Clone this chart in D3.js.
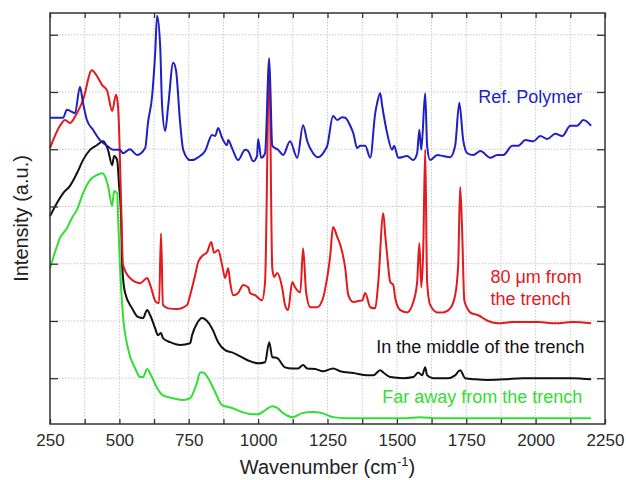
<!DOCTYPE html>
<html>
<head>
<meta charset="utf-8">
<script src="https://cdn.jsdelivr.net/npm/d3@7"></script>
<style>
  body { margin: 0; background: #fff; }
  #chart { width: 626px; height: 480px; }
  text { font-family: "Liberation Sans", Arial, sans-serif; }
</style>
</head>
<body>
<div id="chart"></div>
<script>
// spectra: [wavenumber (cm-1), intensity (a.u., offset)]
const refPolymer = [
  [250, 4.55], [297, 4.55], [311, 4.69], [322, 4.67], [340, 4.63], [358, 5.09], [369, 4.81],
  [383, 4.51], [405, 4.34], [430, 4.16], [456, 4.06], [477, 3.99], [502, 3.99], [513, 3.93],
  [538, 4.00], [564, 3.90], [593, 4.02], [603, 4.46], [618, 4.93], [629, 5.68], [636, 6.33],
  [647, 5.80], [654, 4.76], [665, 4.32], [676, 4.76], [694, 5.51], [704, 5.38], [719, 4.46],
  [730, 3.99], [755, 3.81], [762, 3.81], [784, 3.86], [809, 3.97], [834, 4.25], [845, 4.23],
  [856, 4.37], [870, 4.20], [888, 4.07], [892, 4.16], [906, 4.02], [928, 3.81], [953, 3.99],
  [964, 3.97], [982, 3.79], [996, 3.88], [1000, 4.18], [1011, 3.85], [1025, 3.93], [1040, 5.59],
  [1051, 4.06], [1061, 4.02], [1072, 3.99], [1090, 3.90], [1115, 4.14], [1141, 3.85], [1162, 4.42],
  [1177, 4.14], [1198, 3.93], [1216, 3.86], [1242, 3.99], [1249, 4.06], [1270, 4.58], [1285, 4.51],
  [1303, 4.56], [1314, 4.55], [1332, 4.41], [1343, 4.28], [1357, 4.02], [1368, 4.06], [1386, 4.06],
  [1404, 3.85], [1422, 4.63], [1429, 4.81], [1440, 4.98], [1447, 4.76], [1465, 4.28], [1483, 3.99],
  [1490, 4.06], [1505, 3.85], [1537, 3.88], [1559, 3.81], [1573, 3.93], [1581, 4.34], [1588, 3.99],
  [1602, 4.98], [1609, 4.06], [1620, 3.81], [1646, 3.90], [1667, 3.88], [1692, 3.86], [1710, 4.06],
  [1725, 4.81], [1739, 4.16], [1754, 3.93], [1775, 3.90], [1801, 3.97], [1837, 3.85], [1862, 3.90],
  [1884, 3.90], [1916, 4.06], [1938, 4.06], [1963, 4.16], [1992, 4.14], [2017, 4.23], [2042, 4.18],
  [2071, 4.27], [2096, 4.23], [2125, 4.41], [2150, 4.41], [2172, 4.51], [2200, 4.41]
];

const trench80 = [
  [250, 4.02], [286, 4.41], [304, 4.51], [322, 4.46], [347, 4.63], [369, 4.86], [401, 5.38],
  [419, 5.28], [438, 5.12], [456, 5.02], [474, 4.67], [488, 4.95], [495, 4.76], [499, 4.34],
  [506, 3.11], [513, 1.98], [538, 1.75], [575, 1.66], [600, 1.75], [611, 1.63], [632, 1.33],
  [643, 1.31], [650, 2.53], [657, 1.28], [676, 1.22], [708, 1.21], [744, 1.28], [755, 1.45],
  [773, 1.80], [784, 2.03], [802, 2.15], [816, 2.20], [831, 2.38], [841, 2.19], [856, 2.24],
  [870, 1.98], [881, 1.75], [892, 1.92], [899, 1.68], [910, 1.45], [928, 1.49], [946, 1.63],
  [964, 1.59], [971, 1.49], [989, 1.45], [1014, 1.36], [1025, 1.68], [1040, 5.47], [1051, 1.92],
  [1058, 1.77], [1069, 1.84], [1087, 1.57], [1097, 1.28], [1108, 1.19], [1123, 1.68], [1133, 1.59],
  [1152, 1.50], [1162, 2.27], [1173, 1.50], [1188, 1.24], [1213, 1.24], [1234, 1.40], [1242, 1.57],
  [1260, 2.15], [1270, 2.64], [1285, 2.47], [1296, 2.33], [1314, 1.92], [1325, 1.45], [1343, 1.33],
  [1361, 1.35], [1375, 1.36], [1386, 1.49], [1404, 1.24], [1422, 1.22], [1433, 1.68], [1451, 2.88],
  [1458, 2.50], [1465, 2.15], [1476, 1.68], [1487, 1.63], [1494, 1.40], [1512, 1.19], [1537, 1.15],
  [1559, 1.33], [1573, 1.68], [1581, 2.36], [1588, 1.59], [1595, 2.24], [1602, 3.99], [1609, 1.68],
  [1620, 1.28], [1646, 1.15], [1667, 1.15], [1692, 1.22], [1710, 1.45], [1721, 1.98], [1728, 3.34],
  [1735, 2.60], [1743, 1.36], [1754, 1.22], [1764, 1.15], [1793, 1.10], [1829, 1.00], [1865, 0.96],
  [1916, 0.98], [2010, 0.98], [2071, 0.96], [2132, 0.98], [2200, 0.96]
];

const trenchMiddle = [
  [250, 2.83], [275, 3.06], [297, 3.23], [322, 3.36], [347, 3.58], [369, 3.81], [394, 3.99],
  [419, 4.07], [441, 4.14], [459, 3.99], [474, 3.72], [481, 3.88], [492, 3.81], [499, 3.36],
  [506, 2.85], [510, 1.98], [520, 1.50], [546, 1.22], [567, 1.07], [585, 1.05], [600, 1.19],
  [611, 1.10], [629, 0.87], [639, 0.75], [650, 0.79], [657, 0.70], [683, 0.63], [719, 0.58],
  [755, 0.61], [762, 0.75], [780, 0.96], [798, 1.05], [816, 1.00], [834, 0.87], [856, 0.63],
  [881, 0.49], [906, 0.45], [928, 0.40], [964, 0.31], [1000, 0.26], [1025, 0.28], [1040, 0.63],
  [1051, 0.37], [1069, 0.35], [1097, 0.19], [1123, 0.17], [1144, 0.17], [1162, 0.23], [1177, 0.17],
  [1206, 0.16], [1234, 0.12], [1270, 0.17], [1296, 0.12], [1343, 0.09], [1393, 0.05], [1415, 0.05],
  [1440, 0.14], [1451, 0.10], [1476, 0.02], [1523, 0.00], [1559, 0.02], [1577, 0.10], [1591, 0.05],
  [1602, 0.19], [1609, 0.05], [1631, 0.00], [1682, 0.00], [1710, 0.05], [1728, 0.14], [1746, 0.00],
  [1783, -0.02], [1829, -0.03], [1891, -0.02], [1952, 0.00], [2071, 0.00], [2132, 0.00], [2200, -0.02]
];

const farAway = [
  [250, 1.92], [268, 2.20], [286, 2.45], [311, 2.62], [329, 2.80], [347, 2.94], [369, 3.23],
  [394, 3.46], [419, 3.55], [438, 3.58], [448, 3.53], [459, 3.36], [474, 3.01], [481, 3.27],
  [492, 3.23], [495, 2.85], [502, 1.98], [513, 1.10], [531, 0.52], [557, 0.17], [575, 0.02],
  [585, 0.02], [600, 0.16], [614, 0.05], [636, -0.17], [657, -0.30], [694, -0.35], [730, -0.38],
  [755, -0.35], [762, -0.30], [780, -0.07], [791, 0.10], [802, 0.10], [820, 0.00], [845, -0.24],
  [870, -0.47], [906, -0.52], [942, -0.59], [978, -0.63], [1000, -0.63], [1025, -0.56], [1051, -0.49],
  [1069, -0.52], [1090, -0.61], [1123, -0.68], [1159, -0.61], [1195, -0.59], [1231, -0.61],
  [1270, -0.68], [1321, -0.70], [1404, -0.70], [1523, -0.70], [1584, -0.68], [1646, -0.70],
  [1718, -0.70], [1945, -0.70], [2200, -0.70]
];

const xTicks = d3.range(250, 2251, 125);
const yTicks = d3.range(0, 7);

const series = [
  { name: "far", data: farAway, color: "#33dd33" },
  { name: "middle", data: trenchMiddle, color: "#111111" },
  { name: "80um", data: trench80, color: "#e3191c" },
  { name: "ref", data: refPolymer, color: "#1f1fc4" }
];

const svgWidth = 626, svgHeight = 480;
const margin = { top: 13, right: 21, bottom: 56, left: 50 };
const width = svgWidth - margin.left - margin.right;
const height = svgHeight - margin.top - margin.bottom;

const svg = d3.select("#chart")
  .append("svg")
  .attr("width", svgWidth)
  .attr("height", svgHeight)
  .append("g")
  .attr("transform", `translate(${margin.left}, ${margin.top})`);

const x = d3.scaleLinear().domain([250, 2250]).range([0, width]);
const y = d3.scaleLinear().domain([-0.8, 6.38]).range([height, 0]);

// dotted grid
svg.append("g")
  .selectAll("line")
  .data(xTicks.slice(1, -1))
  .join("line")
  .attr("x1", d => x(d)).attr("x2", d => x(d))
  .attr("y1", 0).attr("y2", height)
  .attr("stroke", "#c8c8c8")
  .attr("stroke-dasharray", "1.5,1.5");

svg.append("g")
  .selectAll("line")
  .data(yTicks)
  .join("line")
  .attr("x1", 0).attr("x2", width)
  .attr("y1", d => y(d)).attr("y2", d => y(d))
  .attr("stroke", "#c8c8c8")
  .attr("stroke-dasharray", "1.5,1.5");

// spectra
const line = d3.line()
  .x(d => x(d[0]))
  .y(d => y(d[1]))
  .curve(d3.curveMonotoneX);

series.forEach(s => {
  svg.append("path")
    .datum(s.data)
    .attr("fill", "none")
    .attr("stroke", s.color)
    .attr("stroke-width", 2)
    .attr("stroke-linejoin", "round")
    .attr("d", line);
});

// axes, ticks pointing inward
const fmt = d => (d % 250 === 0 ? d : "");

const xAxis = svg.append("g")
  .attr("transform", `translate(0, ${height})`)
  .call(d3.axisBottom(x).tickValues(xTicks).tickSize(-5).tickPadding(10).tickFormat(fmt));

svg.append("g")
  .call(d3.axisTop(x).tickValues(xTicks).tickSize(-5).tickFormat(""));

svg.append("g")
  .call(d3.axisLeft(y).tickValues(yTicks).tickSize(-8).tickFormat(""));

svg.append("g")
  .attr("transform", `translate(${width}, 0)`)
  .call(d3.axisRight(y).tickValues(yTicks).tickSize(-8).tickFormat(""));

svg.selectAll(".domain").remove();
svg.selectAll(".tick line").attr("stroke", "#333").attr("stroke-width", 1.3);

xAxis.selectAll("text")
  .style("font-size", "17px")
  .attr("fill", "#2a2a2a");

// frame
svg.append("rect")
  .attr("width", width)
  .attr("height", height)
  .attr("fill", "none")
  .attr("stroke", "#333")
  .attr("stroke-width", 1.5);

// axis titles
svg.append("text")
  .attr("transform", "rotate(-90)")
  .attr("x", -height / 2)
  .attr("y", -22)
  .attr("text-anchor", "middle")
  .style("font-size", "20px")
  .attr("fill", "#222")
  .text("Intensity (a.u.)");

const xTitle = svg.append("text")
  .attr("x", width / 2)
  .attr("y", height + 50)
  .attr("text-anchor", "middle")
  .style("font-size", "20px")
  .attr("fill", "#222");
xTitle.append("tspan").text("Wavenumber (cm");
xTitle.append("tspan").attr("dy", -8).style("font-size", "13px").text("-1");
xTitle.append("tspan").attr("dy", 8).text(")");

// curve labels
const labels = [
  { lines: ["Ref. Polymer"], wn: 1793, v: 4.81, color: "#1f1fc4" },
  { lines: ["80 \u03bcm from", "the trench"], wn: 1837, v: 1.66, color: "#e3191c" },
  { lines: ["In the middle of the trench"], wn: 1426, v: 0.44, color: "#111111" },
  { lines: ["Far away from the trench"], wn: 1447, v: -0.43, color: "#33dd33" }
];

labels.forEach(l => {
  const t = svg.append("text")
    .attr("x", x(l.wn))
    .attr("y", y(l.v))
    .style("font-size", "18px")
    .attr("fill", l.color);
  l.lines.forEach((s, i) => {
    t.append("tspan")
      .attr("x", x(l.wn))
      .attr("dy", i === 0 ? 0 : 22)
      .text(s);
  });
});
</script>
</body>
</html>
